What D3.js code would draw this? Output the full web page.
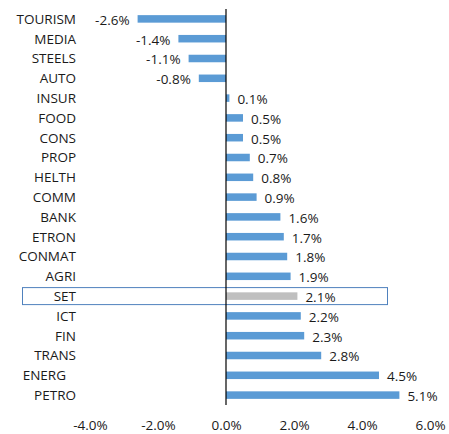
<!DOCTYPE html>
<html>
<head>
<meta charset="utf-8">
<script src="https://cdn.jsdelivr.net/npm/d3@7"></script>
<style>
  body { margin: 0; background: #fff; }
  text { font-family: "Open Sans", "Liberation Sans", Arial, sans-serif; fill: #1a1a1a; }
</style>
</head>
<body>
<script>
// sector returns, %
const sectors = ["TOURISM", "MEDIA", "STEELS", "AUTO", "INSUR", "FOOD", "CONS", "PROP", "HELTH", "COMM",
                 "BANK", "ETRON", "CONMAT", "AGRI", "SET", "ICT", "FIN", "TRANS", "ENERG", "PETRO"];
const values = [-2.6, -1.4, -1.1, -0.8, 0.1, 0.5, 0.5, 0.7, 0.8, 0.9,
                1.6, 1.7, 1.8, 1.9, 2.1, 2.2, 2.3, 2.8, 4.5, 5.1];
const xTicks = [-4, -2, 0, 2, 4, 6];
const highlight = "SET";

const width = 449, height = 434;
const fontSize = "13.5px";
const svg = d3.select("body").append("svg")
    .attr("width", width).attr("height", height);

const x = d3.scaleLinear().domain([-4, 6]).range([90, 430]);
const y = d3.scaleBand().domain(sectors).range([9, 405]).paddingInner(0.62).paddingOuter(0.31);
const data = sectors.map((s, i) => ({name: s, value: values[i]}));

// highlight box round the SET row
svg.append("rect")
    .attr("x", 22.5)
    .attr("y", y(highlight) + y.bandwidth() / 2 - 8.5)
    .attr("width", 365)
    .attr("height", 17)
    .attr("fill", "none")
    .attr("stroke", "#4f81bd")
    .attr("stroke-width", 1);

svg.selectAll("rect.bar").data(data).join("rect")
    .attr("class", "bar")
    .attr("x", d => x(Math.min(0, d.value)))
    .attr("y", d => y(d.name))
    .attr("width", d => Math.abs(x(d.value) - x(0)))
    .attr("height", y.bandwidth())
    .attr("fill", d => d.name === highlight ? "#bfbfbf" : "#5b9bd5");

// zero line
svg.append("line")
    .attr("x1", x(0)).attr("x2", x(0))
    .attr("y1", 9).attr("y2", 405)
    .attr("stroke", "#000").attr("stroke-width", 1.2);

// category labels
svg.selectAll("text.cat").data(data).join("text")
    .attr("class", "cat")
    .attr("x", d => d.name === "ENERG" ? 66 : 76)
    .attr("y", d => y(d.name) + y.bandwidth() / 2)
    .attr("dy", "0.36em")
    .attr("text-anchor", "end")
    .style("font-size", fontSize)
    .text(d => d.name);

// value labels
svg.selectAll("text.val").data(data).join("text")
    .attr("class", "val")
    .attr("x", d => d.value < 0 ? x(d.value) - 8 : x(d.value) + 8)
    .attr("y", d => y(d.name) + y.bandwidth() / 2 + 1)
    .attr("dy", "0.36em")
    .attr("text-anchor", d => d.value < 0 ? "end" : "start")
    .style("font-size", fontSize)
    .text(d => d.value.toFixed(1) + "%");

// x axis labels only
const axis = svg.append("g")
    .attr("transform", "translate(0,425)")
    .call(d3.axisBottom(x).tickValues(xTicks).tickSize(0).tickFormat(d => d.toFixed(1) + "%"));
axis.select(".domain").remove();
axis.selectAll("text")
    .attr("y", 0).attr("dy", "0.36em")
    .style("font-size", fontSize)
    .style("font-family", "Open Sans, Liberation Sans, Arial, sans-serif")
    .attr("fill", "#1a1a1a");
</script>
</body>
</html>
